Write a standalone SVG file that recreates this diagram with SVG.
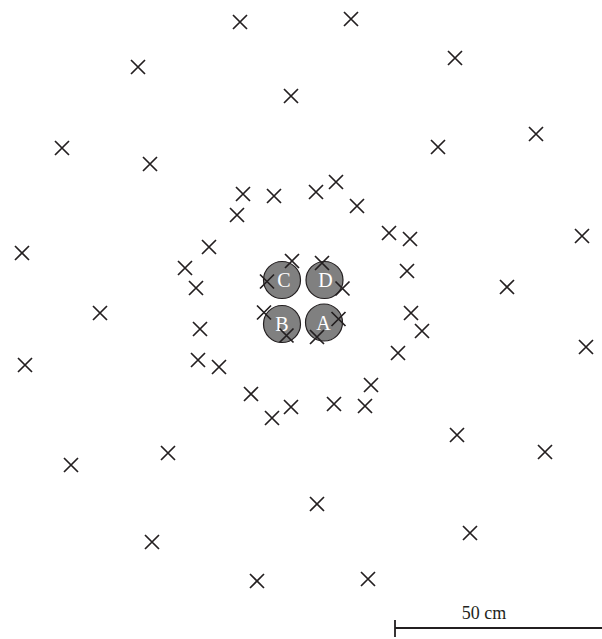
<svg xmlns="http://www.w3.org/2000/svg" xmlns:xlink="http://www.w3.org/1999/xlink" width="602" height="639" viewBox="0 0 602 639">
<style>
.x{stroke:#231f20;stroke-width:1.7;fill:none}
.c{fill:#808080;stroke:#231f20;stroke-width:1.2}
.l{fill:#ffffff;font-family:"Liberation Serif",serif;font-size:20px;text-anchor:middle}
.s{fill:#231f20;font-family:"Liberation Serif",serif;font-size:18px;text-anchor:middle}
</style>
<defs>
<path id="m" d="M-7,-7L7,7M7,-7L-7,7" class="x"/>
</defs>
<rect width="602" height="639" fill="#ffffff"/>
<g id="nodes">
<g id="C"><circle class="c" cx="282" cy="280" r="18.5"/><text class="l" x="284" y="287">C</text></g>
<g id="D"><circle class="c" cx="324.5" cy="280" r="18.5"/><text class="l" x="325.5" y="287">D</text></g>
<g id="B"><circle class="c" cx="282" cy="324" r="18.5"/><text class="l" x="282" y="331">B</text></g>
<g id="A"><circle class="c" cx="324" cy="322.5" r="18.5"/><text class="l" x="323.5" y="329.5">A</text></g>
</g>
<g id="markers">
<use xlink:href="#m" x="240" y="22"/>
<use xlink:href="#m" x="351" y="19"/>
<use xlink:href="#m" x="138" y="67"/>
<use xlink:href="#m" x="455" y="58"/>
<use xlink:href="#m" x="291" y="96"/>
<use xlink:href="#m" x="62" y="148"/>
<use xlink:href="#m" x="150" y="164"/>
<use xlink:href="#m" x="438" y="147"/>
<use xlink:href="#m" x="536" y="134"/>
<use xlink:href="#m" x="243" y="194"/>
<use xlink:href="#m" x="274" y="196"/>
<use xlink:href="#m" x="316" y="192"/>
<use xlink:href="#m" x="336" y="182"/>
<use xlink:href="#m" x="237" y="215"/>
<use xlink:href="#m" x="357" y="206"/>
<use xlink:href="#m" x="389" y="233"/>
<use xlink:href="#m" x="410" y="239"/>
<use xlink:href="#m" x="582" y="236"/>
<use xlink:href="#m" x="22" y="253"/>
<use xlink:href="#m" x="209" y="247"/>
<use xlink:href="#m" x="185" y="268"/>
<use xlink:href="#m" x="196" y="288"/>
<use xlink:href="#m" x="292" y="261"/>
<use xlink:href="#m" x="322" y="263"/>
<use xlink:href="#m" x="267" y="281.5"/>
<use xlink:href="#m" x="342.5" y="288.5"/>
<use xlink:href="#m" x="407" y="271"/>
<use xlink:href="#m" x="507" y="287"/>
<use xlink:href="#m" x="100" y="313"/>
<use xlink:href="#m" x="264" y="312.5"/>
<use xlink:href="#m" x="338.5" y="319"/>
<use xlink:href="#m" x="411" y="313"/>
<use xlink:href="#m" x="422" y="331"/>
<use xlink:href="#m" x="200" y="329"/>
<use xlink:href="#m" x="286.5" y="335.5"/>
<use xlink:href="#m" x="317" y="337"/>
<use xlink:href="#m" x="586" y="347"/>
<use xlink:href="#m" x="25" y="365"/>
<use xlink:href="#m" x="198" y="360"/>
<use xlink:href="#m" x="219" y="367"/>
<use xlink:href="#m" x="398" y="353"/>
<use xlink:href="#m" x="371" y="385"/>
<use xlink:href="#m" x="251" y="394"/>
<use xlink:href="#m" x="291" y="407"/>
<use xlink:href="#m" x="272" y="418"/>
<use xlink:href="#m" x="334" y="404"/>
<use xlink:href="#m" x="365" y="406"/>
<use xlink:href="#m" x="457" y="435"/>
<use xlink:href="#m" x="168" y="453"/>
<use xlink:href="#m" x="71" y="465"/>
<use xlink:href="#m" x="545" y="452"/>
<use xlink:href="#m" x="317" y="504"/>
<use xlink:href="#m" x="470" y="533"/>
<use xlink:href="#m" x="152" y="542"/>
<use xlink:href="#m" x="257" y="581"/>
<use xlink:href="#m" x="368" y="579"/>
</g>
<g id="scale">
<path d="M395,620V637M395,628H602" stroke="#231f20" stroke-width="1.8" fill="none"/>
<text class="s" x="484" y="619">50 cm</text>
</g>
</svg>
